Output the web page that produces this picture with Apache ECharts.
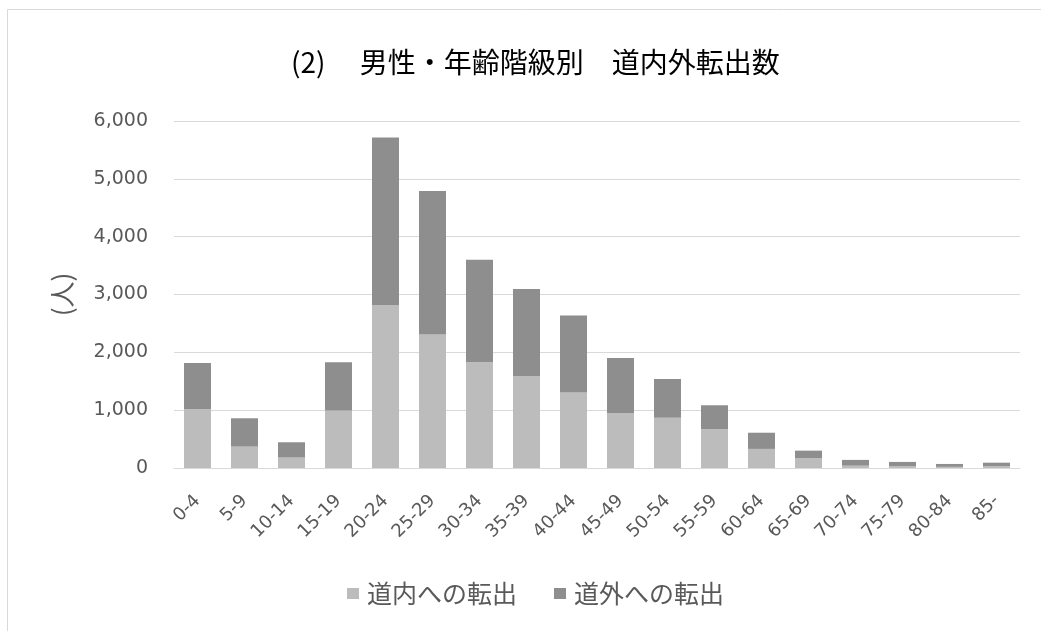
<!DOCTYPE html>
<html><head><meta charset="utf-8">
<script src="https://cdn.jsdelivr.net/npm/echarts@6/dist/echarts.min.js"></script>
<style>html,body{margin:0;padding:0;background:#fff}#c{width:1041px;height:631px}</style>
</head><body><div id="c"></div>
<script>
const categories = ['0-4','5-9','10-14','15-19','20-24','25-29','30-34','35-39','40-44','45-49','50-54','55-59','60-64','65-69','70-74','75-79','80-84','85-'];
const inside = [1015,370,180,995,2820,2310,1830,1590,1305,950,870,670,330,170,40,30,20,30];
const outside = [800,490,265,835,2895,2480,1770,1505,1330,950,670,415,280,130,100,75,50,62];
const seriesNames = ['道内への転出','道外への転出'];
const titleText = '(2)　 男性・年齢階級別　道内外転出数';
const font = '"Noto Sans CJK JP", "Noto Sans", sans-serif';
const numFont = '"DejaVu Sans", sans-serif';
const chart = echarts.init(document.getElementById('c'));
chart.setOption({
  animation:false,
  backgroundColor:'#fff',
  graphic:[{type:'rect',shape:{x:7.5,y:9.5,width:1100,height:700},style:{fill:'none',stroke:'#d9d9d9',lineWidth:1}}],
  title:{text:titleText,left:286,top:43,textStyle:{fontFamily:font,fontSize:28,fontWeight:'normal',color:'#000'}},
  legend:{top:576,left:342,itemWidth:12,itemHeight:11,itemGap:37,icon:'rect',
    textStyle:{fontFamily:font,fontSize:25,color:'#595959',padding:[0,0,0,3]},data:seriesNames},
  grid:{left:174,right:21,top:121,bottom:163,containLabel:false},
  xAxis:{type:'category',data:categories,
    axisLine:{lineStyle:{color:'#d9d9d9'}},axisTick:{show:false},
    axisLabel:{rotate:45,interval:0,fontFamily:numFont,fontSize:18,color:'#595959',margin:30}},
  yAxis:{type:'value',min:0,max:6000,interval:1000,
    name:'(人)',nameLocation:'middle',nameRotate:90,nameGap:99,
    nameTextStyle:{fontFamily:font,fontSize:26,color:'#595959'},
    axisLine:{show:false},axisTick:{show:false},
    splitLine:{lineStyle:{color:'#d9d9d9'}},
    axisLabel:{fontFamily:numFont,fontSize:19,color:'#595959',margin:26,
      formatter:v=>v.toLocaleString('en-US')}},
  series:[
    {name:seriesNames[0],type:'bar',stack:'a',data:inside,barWidth:27,itemStyle:{color:'#bcbcbc'}},
    {name:seriesNames[1],type:'bar',stack:'a',data:outside,barWidth:27,itemStyle:{color:'#8e8e8e'}}
  ]
});
</script></body></html>
